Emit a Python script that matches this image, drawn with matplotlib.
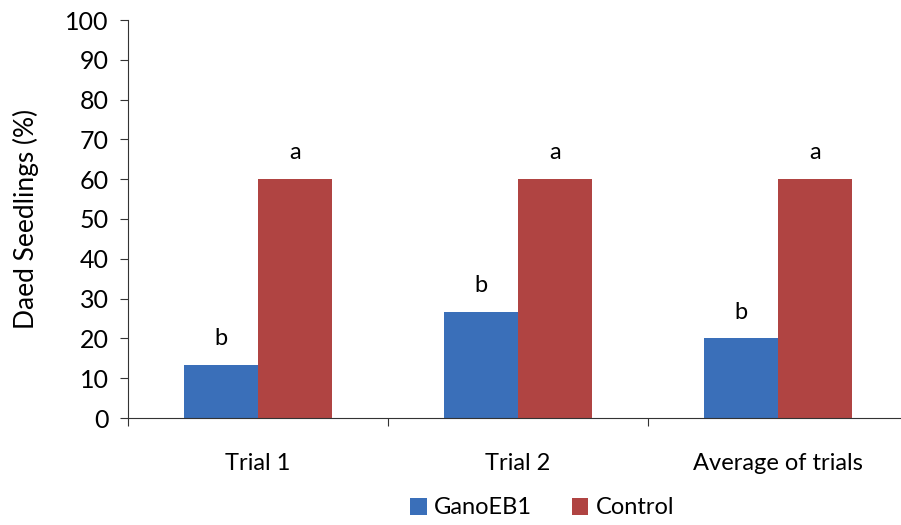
import matplotlib
matplotlib.use('Agg')
import matplotlib.pyplot as plt
import numpy as np

### data ###
categories = ['Trial 1', 'Trial 2', 'Average of trials']
gano = [13.3, 26.7, 20.0]
control = [60.0, 60.0, 60.0]
gano_letters = ['b', 'b', 'b']
control_letters = ['a', 'a', 'a']

plt.rcParams['font.family'] = ['Lato', 'DejaVu Sans']

fig = plt.figure(figsize=(9.01, 5.25), dpi=100)
ax = fig.add_axes([128/901, 107/525, 780/901, 398/525])

x = np.arange(len(categories))
w = 0.285
b1 = ax.bar(x - w/2, gano, w, color='#3a6fb9', label='GanoEB1')
b2 = ax.bar(x + w/2, control, w, color='#b04442', label='Control')

for i in x:
    ax.annotate(gano_letters[i], (x[i] - w/2, gano[i]), xytext=(0, 19),
                textcoords='offset points', ha='center', va='center', fontsize=17)
    ax.annotate(control_letters[i], (x[i] + w/2, control[i]), xytext=(0, 19),
                textcoords='offset points', ha='center', va='center', fontsize=17)

ax.set_xlim(-0.5, 2.5)
ax.set_ylim(0, 100)
ax.set_yticks(np.arange(0, 101, 10))
ax.set_xticks([-0.5, 0.5, 1.5, 2.5])
ax.set_xticklabels([])
ax.set_xticks(x, minor=True)
ax.set_xticklabels(categories, minor=True, fontsize=17)
ax.tick_params(axis='x', which='minor', length=0, pad=25)
ax.tick_params(axis='x', which='major', length=6, direction='out', color='#333333')
ax.tick_params(axis='y', length=6, direction='out', labelsize=18, color='#333333', pad=8)
ax.spines['top'].set_visible(False)
ax.spines['right'].set_visible(False)
ax.spines['left'].set_color('#333333')
ax.spines['bottom'].set_color('#333333')
ax.set_ylabel('Daed Seedlings (%)', fontsize=19, labelpad=19)

fig.legend(handles=[b1, b2], loc='center', bbox_to_anchor=(542/901, 1 - 508/525),
           ncol=2, frameon=False, fontsize=17, handlelength=0.7, handleheight=0.7,
           handletextpad=0.3, columnspacing=1.7)

fig.savefig('out.png', dpi=100)
